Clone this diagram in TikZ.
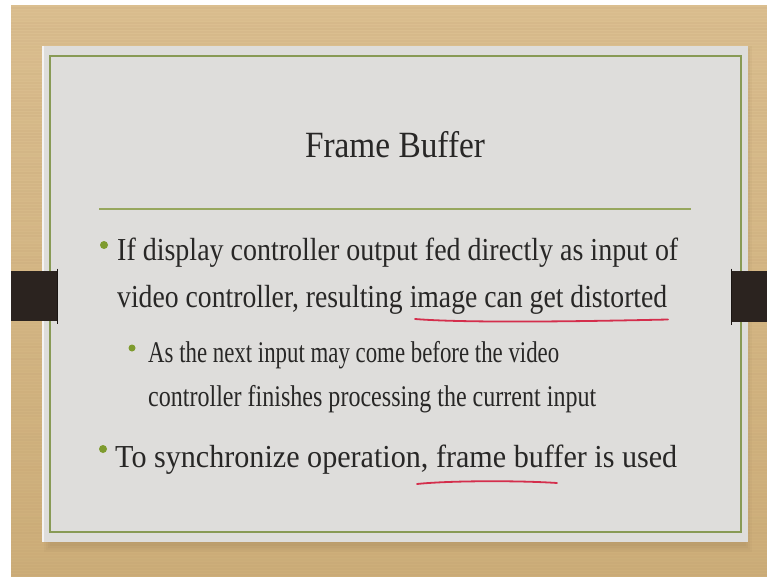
\documentclass[tikz,border=0pt]{standalone}
\usepackage{fontspec}
\usepackage{graphicx}
\setmainfont{Liberation Serif}
\definecolor{woodtop}{HTML}{DBBF90}
\definecolor{woodbot}{HTML}{CDAE79}
\definecolor{grain}{HTML}{B8956A}
\definecolor{paper}{HTML}{DEDDDB}
\definecolor{frameg}{HTML}{889A55}
\definecolor{ruleg}{HTML}{97A75E}
\definecolor{leaf}{HTML}{7E9B2E}
\definecolor{ink}{HTML}{282726}
\definecolor{bar}{HTML}{2B231F}
\definecolor{barcap}{HTML}{1A1512}
\definecolor{pen}{HTML}{D42E4C}
\definecolor{shade1}{HTML}{A88E60}

\begin{document}
\begin{tikzpicture}[x=1pt,y=-1pt,
  txt/.style={anchor=base west, inner sep=0pt, text=ink},
  dot/.style={circle, fill=leaf, inner sep=0pt, minimum size=#1},
  penline/.style={draw=pen, line width=1.8pt, line cap=round},
  barcapline/.style={draw=barcap, line width=1.4pt}]

\useasboundingbox (0,0) rectangle (767,577);

% table top behind the slide
\fill[white] (0,0) rectangle (767,577);
\shade[top color=woodtop, bottom color=woodbot] (11,6) rectangle (767,577);
\pgfmathsetseed{7}
\foreach \gy in {8,11,...,575}{
  \pgfmathsetmacro{\op}{0.04+0.10*rnd}
  \draw[grain, opacity=\op, line width=1.2pt] (11,\gy) -- (767,\gy);
}

% soft shadow under the mat
\foreach \k/\o in {0/0.10,2/0.12,4/0.14,6/0.16}{
  \fill[shade1, opacity=\o] (44+\k,46+\k) rectangle (752-\k,552-\k);
}

% mat and inner frame
\fill[paper] (42,46) rectangle (748,542);
\draw[white, opacity=0.7, line width=1.5pt] (42.8,46) -- (42.8,542);
\draw[frameg, line width=1.6pt] (50,56) rectangle (741,532);

% side hangers
\fill[bar] (11,271) rectangle (58,321);
\draw[barcapline] (57.3,268.5) -- (57.3,324);
\fill[bar] (731,271) rectangle (767,322);
\draw[barcapline] (731.7,268.5) -- (731.7,324.5);

% title and rule
\node[txt, anchor=base] (title) at (395,158)
  {\resizebox{180pt}{\height}{\fontsize{37}{37}\selectfont Frame Buffer}};
\coordinate (ruleL) at (99,209);
\coordinate (ruleR) at (691,209);
\draw[ruleg, line width=1.5pt] (ruleL) -- (ruleR);

% first bullet
\node[dot=8pt] (b1) at (104,245) {};
\node[txt] (l1a) at (117,260)
  {\resizebox{561pt}{\height}{\fontsize{32}{32}\selectfont If display controller output fed directly as input of}};
\node[txt] (l1b) at (117,307)
  {\resizebox{550pt}{\height}{\fontsize{32}{32}\selectfont video controller, resulting image can get distorted}};

% sub bullet
\node[dot=7pt] (sb1) at (132,348) {};
\node[txt] (s1a) at (148,362)
  {\resizebox{411pt}{\height}{\fontsize{30}{30}\selectfont As the next input may come before the video}};
\node[txt] (s1b) at (148,406)
  {\resizebox{448pt}{\height}{\fontsize{30}{30}\selectfont controller finishes processing the current input}};

% second bullet
\node[dot=8pt] (b2) at (103,449) {};
\node[txt] (l2) at (115,467)
  {\resizebox{562pt}{\height}{\fontsize{32}{32}\selectfont To synchronize operation, frame buffer is used}};

% hand-drawn underlines
\coordinate (u1s) at (415,319);
\coordinate (u1e) at (668,319.5);
\draw[penline] (u1s) .. controls (470,323.5) and (600,321) .. (u1e);
\coordinate (u2s) at (417,484);
\coordinate (u2e) at (557,483);
\draw[penline] (u2s) .. controls (450,480.5) and (520,480.5) .. (u2e);

\end{tikzpicture}
\end{document}
